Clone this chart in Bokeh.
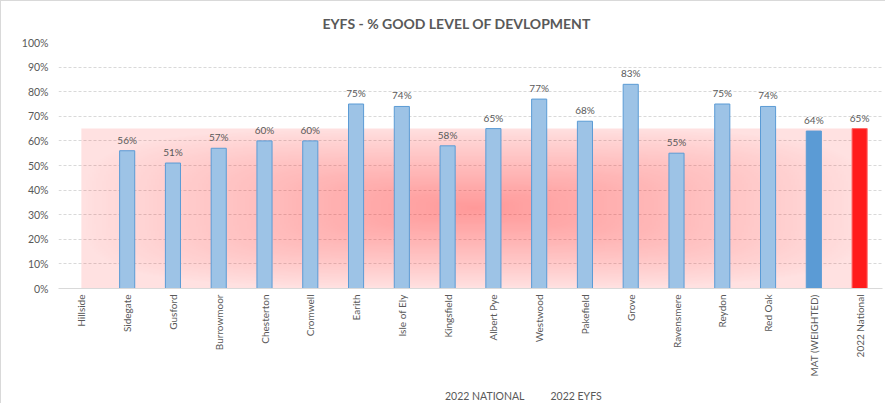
import numpy as np
from bokeh.plotting import figure
from bokeh.layouts import column
from bokeh.models import (ColumnDataSource, Range1d, FixedTicker, PrintfTickFormatter,
                          Legend, LegendItem, Title)
from bokeh.core.properties import value
from bokeh.embed import file_html
from bokeh.resources import INLINE

# ---------------- data ----------------
schools = ["Hillside", "Sidegate", "Gusford", "Burrowmoor", "Chesterton", "Cromwell",
           "Earith", "Isle of Ely", "Kingsfield", "Albert Pye", "Westwood", "Pakefield",
           "Grove", "Ravensmere", "Reydon", "Red Oak", "MAT (WEIGHTED)", "2022 National"]
eyfs_2022 = [np.nan, 56, 51, 57, 60, 60, 75, 74, 58, 65, 77, 68, 83, 55, 75, 74, 64, 65]
national_2022 = [65, 65, 65, 65, 65, 65, 65, 65, 65, 65, 65, 65, 65, 65, 65, 65, 65, 65]
y_ticks = [0, 10, 20, 30, 40, 50, 60, 70, 80, 90, 100]
title_text = "EYFS - % GOOD LEVEL OF DEVLOPMENT"
legend_labels = ["2022 NATIONAL", "2022 EYFS"]

# ---------------- styling ----------------
FONT = "Lato"
TXT = "#595959"
GRID = "#d9d9d9"
BAR_W = 0.33
AREA_COLOR = "#ff2a2a"
BASE_A = 0.14
BAR_FILL = "#9dc3e6"
BAR_LINE = "#5b9bd5"

idx = np.arange(len(schools))
vals = np.array(eyfs_2022, dtype=float)
nat = np.array(national_2022, dtype=float)

fills, lines = [], []
for s in schools:
    if s == "MAT (WEIGHTED)":
        fills.append("#5b9bd5"); lines.append("#5b9bd5")
    elif s == "2022 National":
        fills.append("#ff1c1c"); lines.append("#ff6a6a")
    else:
        fills.append(BAR_FILL); lines.append(BAR_LINE)

labels = ["" if np.isnan(v) else f"{v:.0f}%" for v in vals]

src = ColumnDataSource(dict(x=idx, top=vals, fill=fills, line=lines, lbl=labels))

title = Title(text=title_text, align="left", offset=264, standoff=18,
              vertical_align="top", text_font=FONT, text_font_size="14px",
              text_font_style="bold", text_color=TXT)

p = figure(width=884, height=386, title=title,
           x_range=Range1d(-0.5, len(schools) - 0.5), y_range=Range1d(0, 100),
           output_backend="svg", toolbar_location=None,
           min_border_left=57, min_border_right=3, min_border_top=41, min_border_bottom=99,
           outline_line_color=None, background_fill_color="white", border_fill_color="white")

# national area (base + path gradient)
area_x = np.append(idx, idx[-1] + BAR_W / 2)
area_y = np.append(nat, nat[-1])
p.varea(x=area_x, y1=np.zeros_like(area_y), y2=area_y,
        fill_color=AREA_COLOR, fill_alpha=BASE_A)

ny, nx = 160, 400
gx = np.linspace(-1, 1, nx)
gy = np.linspace(-1, 1, ny)
GX, GY = np.meshgrid(gx, gy)
d = np.clip((np.abs(GX) ** 4 + np.abs(GY) ** 4) ** 0.25, 0, 1)
total = BASE_A + 0.32 * (1 - d) ** 0.9
alpha = (total - BASE_A) / (1 - BASE_A)
img = np.zeros((ny, nx), dtype=np.uint32)
view = img.view(dtype=np.uint8).reshape((ny, nx, 4))
view[:, :, 0] = 255
view[:, :, 1] = 30
view[:, :, 2] = 30
view[:, :, 3] = (alpha * 255).astype(np.uint8)
p.image_rgba(image=[img], x=float(area_x[0]), y=0,
             dw=float(area_x[-1] - area_x[0]), dh=float(nat.max()))

p.vbar(x="x", top="top", width=BAR_W, fill_color="fill", line_color="line",
       line_width=1, source=src)

p.text(x="x", y="top", text="lbl", source=src, y_offset=-5,
       text_align="center", text_baseline="bottom",
       text_font=value(FONT), text_font_size="10px", text_color=TXT)

# axes
p.yaxis.ticker = FixedTicker(ticks=y_ticks)
p.yaxis.formatter = PrintfTickFormatter(format="%d%%")
p.yaxis.axis_line_color = None
p.yaxis.major_tick_line_color = None
p.yaxis.minor_tick_line_color = None
p.yaxis.major_tick_out = 0
p.yaxis.major_tick_in = 0
p.yaxis.minor_tick_out = 0
p.yaxis.major_label_text_font = FONT
p.yaxis.major_label_text_font_size = "10.5px"
p.yaxis.major_label_text_color = TXT
p.yaxis.major_label_standoff = 10

p.xaxis.ticker = FixedTicker(ticks=list(idx))
p.xaxis.major_label_overrides = {int(i): s for i, s in zip(idx, schools)}
p.xaxis.major_label_orientation = np.pi / 2
p.xaxis.axis_line_color = GRID
p.xaxis.major_tick_line_color = None
p.xaxis.minor_tick_line_color = None
p.xaxis.major_tick_out = 0
p.xaxis.major_tick_in = 0
p.xaxis.minor_tick_out = 0
p.xaxis.axis_label_standoff = 0
p.xaxis.major_label_text_font = FONT
p.xaxis.major_label_text_font_size = "10px"
p.xaxis.major_label_text_color = TXT
p.xaxis.major_label_standoff = 6

p.xgrid.visible = False
p.ygrid.ticker = FixedTicker(ticks=y_ticks)
p.ygrid.grid_line_color = GRID
p.ygrid.grid_line_dash = "3 2"

# ---------------- legend strip ----------------
lf = figure(width=884, height=16, x_range=Range1d(0, 1), y_range=Range1d(0, 1),
            output_backend="svg", toolbar_location=None,
            x_axis_location=None, y_axis_location=None,
            min_border=0, outline_line_color=None,
            background_fill_color="white", border_fill_color="white")
lf.grid.visible = False
nat_r = lf.varea(x=[], y1=[], y2=[], fill_color=AREA_COLOR, fill_alpha=BASE_A)
eyfs_r = lf.vbar(x=[], top=[], width=BAR_W, fill_color=BAR_FILL, line_color=BAR_LINE)

legend = Legend(items=[LegendItem(label=legend_labels[0], renderers=[nat_r]),
                       LegendItem(label=legend_labels[1], renderers=[eyfs_r])],
                orientation="horizontal", location=(376, 1),
                label_text_font=FONT, label_text_font_size="10.5px", label_text_color=TXT,
                glyph_width=8, glyph_height=8, spacing=15, padding=0, margin=0,
                label_standoff=3, label_height=10, border_line_color=None,
                background_fill_alpha=0)
lf.add_layout(legend, "center")

layout = column(p, lf, spacing=0)
layout.styles = {"border-left": "1px solid #d9d9d9", "border-top": "1px solid #d9d9d9"}

open("out.html", "w").write(file_html(layout, INLINE))
